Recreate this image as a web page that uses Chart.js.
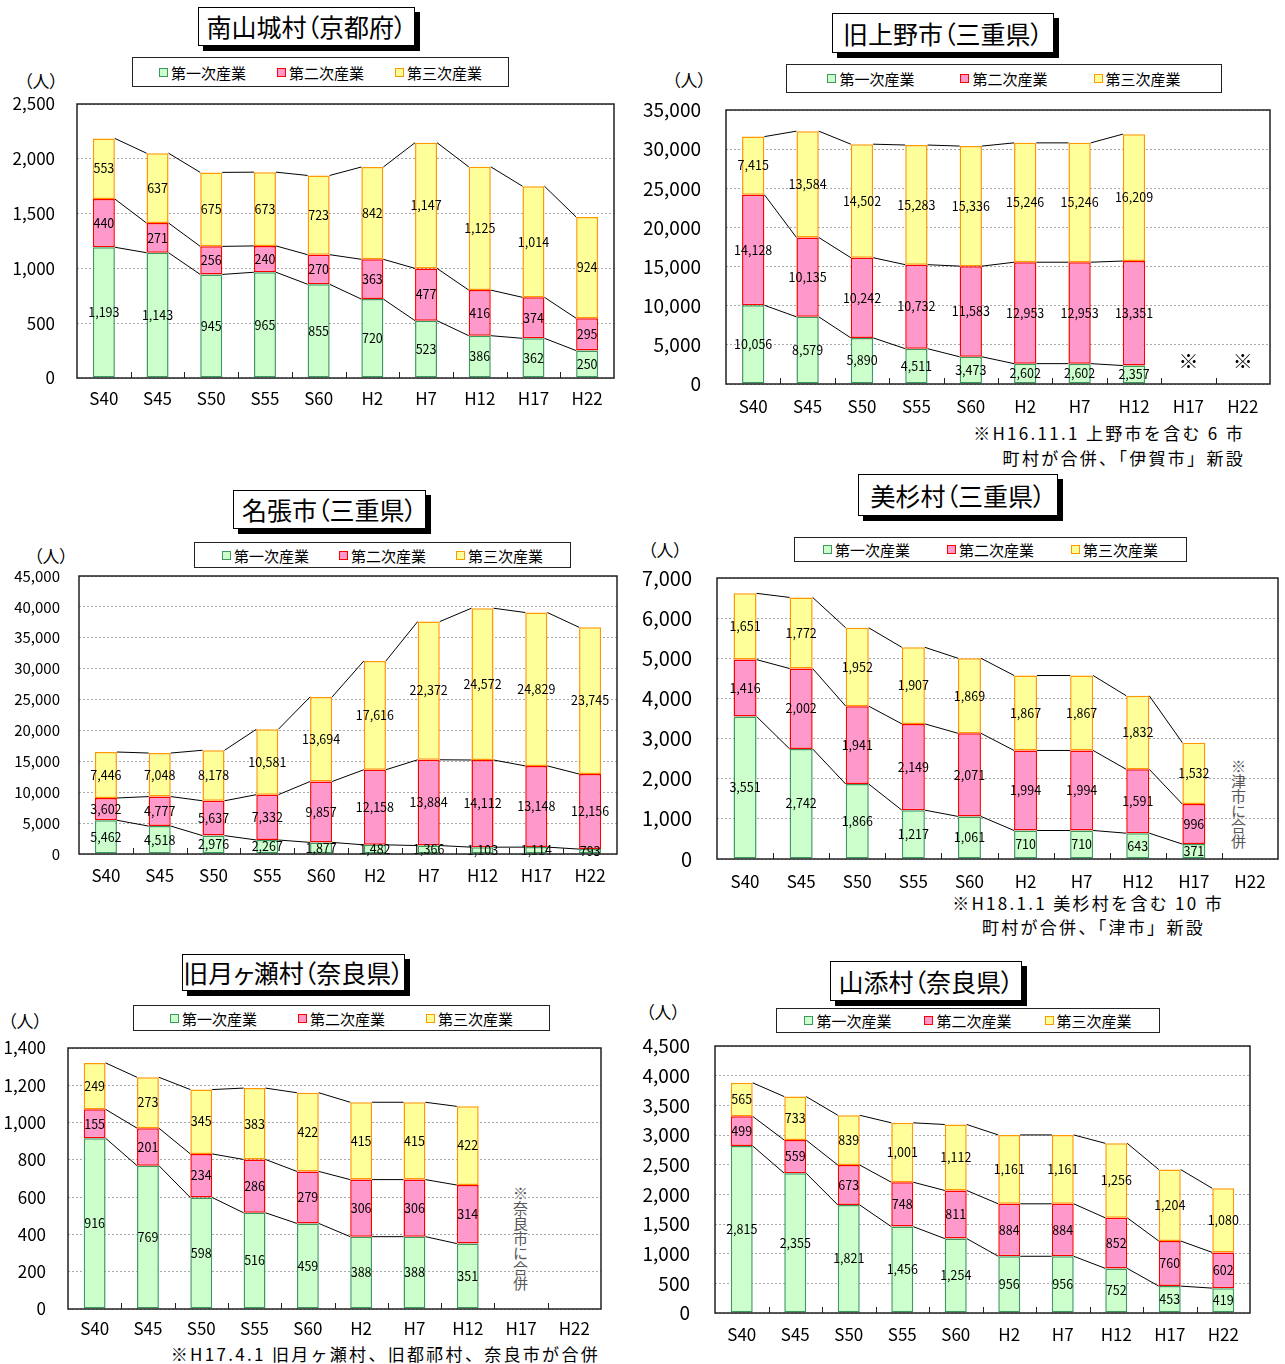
<!DOCTYPE html>
<html lang="ja">
<head>
<meta charset="utf-8">
<script src="https://cdn.jsdelivr.net/npm/chart.js@4.4.1/dist/chart.umd.min.js"></script>
<style>
  body { margin: 0; background: #fff; font-family: "Noto Sans CJK JP", sans-serif; }
  #page { position: relative; width: 1285px; height: 1364px; overflow: hidden; }
  .title { position: absolute; box-sizing: border-box; background: #fff; border: 1px solid #000;
    box-shadow: 5px 5px 0 #000; font-size: 25px; line-height: 1; display: flex; align-items: center;
    justify-content: center; white-space: nowrap; font-feature-settings: "palt"; }
  .legend { position: absolute; box-sizing: border-box; background: #fff; border: 1px solid #222;
    display: flex; align-items: center; justify-content: center; font-size: 15px; white-space: nowrap; }
  .legend .item { display: flex; align-items: center; }
  .legend i { display: inline-block; width: 9px; height: 9px; box-sizing: border-box; border: 1px solid; margin-right: 3px; }
  .unit { position: absolute; font-size: 17px; line-height: 1; font-feature-settings: "palt"; }
  .note { position: absolute; font-size: 17px; letter-spacing: 2.3px; white-space: pre; line-height: 1; }
  .vnote { position: absolute; writing-mode: vertical-rl; font-size: 15px; color: #555; line-height: 1; }
  canvas { position: absolute; }
</style>
</head>
<body>
<div id="page"></div>
<script>
const years = ['S40', 'S45', 'S50', 'S55', 'S60', 'H2', 'H7', 'H12', 'H17', 'H22'];
const seriesNames = ['第一次産業', '第二次産業', '第三次産業'];

// 南山城村（京都府）
const minamiPrimary = [1193, 1143, 945, 965, 855, 720, 523, 386, 362, 250];
const minamiSecondary = [440, 271, 256, 240, 270, 363, 477, 416, 374, 295];
const minamiTertiary = [553, 637, 675, 673, 723, 842, 1147, 1125, 1014, 924];

// 旧上野市（三重県） H17, H22 は合併のためなし
const uenoPrimary = [10056, 8579, 5890, 4511, 3473, 2602, 2602, 2357];
const uenoSecondary = [14128, 10135, 10242, 10732, 11583, 12953, 12953, 13351];
const uenoTertiary = [7415, 13584, 14502, 15283, 15336, 15246, 15246, 16209];

// 名張市（三重県）
const nabariPrimary = [5462, 4518, 2976, 2267, 1877, 1482, 1366, 1103, 1114, 793];
const nabariSecondary = [3602, 4777, 5637, 7332, 9857, 12158, 13884, 14112, 13148, 12156];
const nabariTertiary = [7446, 7048, 8178, 10581, 13694, 17616, 22372, 24572, 24829, 23745];

// 美杉村（三重県） H22 はなし
const misugiPrimary = [3551, 2742, 1866, 1217, 1061, 710, 710, 643, 371];
const misugiSecondary = [1416, 2002, 1941, 2149, 2071, 1994, 1994, 1591, 996];
const misugiTertiary = [1651, 1772, 1952, 1907, 1869, 1867, 1867, 1832, 1532];

// 旧月ヶ瀬村（奈良県） H17, H22 はなし
const tsukigasePrimary = [916, 769, 598, 516, 459, 388, 388, 351];
const tsukigaseSecondary = [155, 201, 234, 286, 279, 306, 306, 314];
const tsukigaseTertiary = [249, 273, 345, 383, 422, 415, 415, 422];

// 山添村（奈良県）
const yamazoePrimary = [2815, 2355, 1821, 1456, 1254, 956, 956, 752, 453, 419];
const yamazoeSecondary = [499, 559, 673, 748, 811, 884, 884, 852, 760, 602];
const yamazoeTertiary = [565, 733, 839, 1001, 1112, 1161, 1161, 1256, 1204, 1080];

const fillColors = ['#ccffcc', '#ff99cc', '#ffff99'];
const edgeColors = ['#3c9a5f', '#ff0000', '#ff9900'];
const FONT = '"Noto Sans CJK JP", sans-serif';

Chart.defaults.color = '#000';
Chart.defaults.font.family = FONT;

// layout of each panel: plot = [left, top, right, bottom] of the chart area
const panels = [
  { title: '南山城村（京都府）', series: [minamiPrimary, minamiSecondary, minamiTertiary],
    yMax: 2500, yStep: 500, plot: [77, 104, 614, 378], titleBox: [198, 7, 217, 39],
    legendBox: [132, 57, 377, 30], legendGap: 31, unit: [24, 72], yFont: 17, yPad: 22, xPad: 2 },
  { title: '旧上野市（三重県）', series: [uenoPrimary, uenoSecondary, uenoTertiary],
    yMax: 35000, yStep: 5000, plot: [726, 110, 1270, 384], titleBox: [832, 13, 222, 40],
    legendBox: [786, 64, 436, 29], legendGap: 46, unit: [672, 71], yFont: 19, yPad: 25, xPad: 4,
    marks: { labels: ['H17', 'H22'], value: 2940 },
    notes: [{ text: '※H16.11.1 上野市を含む 6 市', right: 1245, top: 424 },
            { text: '町村が合併、「伊賀市」新設', right: 1245, top: 449 }] },
  { title: '名張市（三重県）', series: [nabariPrimary, nabariSecondary, nabariTertiary],
    yMax: 45000, yStep: 5000, plot: [79, 576, 617, 854], titleBox: [233, 490, 193, 39],
    legendBox: [194, 542, 377, 26], legendGap: 30, unit: [34, 547], yFont: 15, yPad: 19, xPad: 3 },
  { title: '美杉村（三重県）', series: [misugiPrimary, misugiSecondary, misugiTertiary],
    yMax: 7000, yStep: 1000, plot: [717, 578, 1278, 859], titleBox: [858, 474, 200, 42],
    legendBox: [794, 537, 393, 25], legendGap: 37, unit: [648, 541], yFont: 20, yPad: 25, xPad: 4,
    vnote: { text: '※津市に合併', left: 1231, top: 759 },
    notes: [{ text: '※H18.1.1 美杉村を含む 10 市', right: 1224, top: 894 },
            { text: '町村が合併、「津市」新設', right: 1205, top: 918 }] },
  { title: '旧月ヶ瀬村（奈良県）', series: [tsukigasePrimary, tsukigaseSecondary, tsukigaseTertiary],
    yMax: 1400, yStep: 200, plot: [68, 1048, 601, 1309], titleBox: [182, 954, 223, 37],
    legendBox: [133, 1005, 417, 26], legendGap: 41, unit: [8, 1012], yFont: 17, yPad: 22, xPad: 1,
    vnote: { text: '※奈良市に合併', left: 513, top: 1186 },
    notes: [{ text: '※H17.4.1 旧月ヶ瀬村、旧都祁村、奈良市が合併', right: 600, top: 1345 }] },
  { title: '山添村（奈良県）', series: [yamazoePrimary, yamazoeSecondary, yamazoeTertiary],
    yMax: 4500, yStep: 500, plot: [715, 1046, 1250, 1313], titleBox: [830, 961, 192, 40],
    legendBox: [776, 1008, 384, 25], legendGap: 33, unit: [646, 1003], yFont: 19, yPad: 25, xPad: 3 }
];

// connector lines between the tops of each stack level
const stackLines = {
  id: 'stackLines',
  afterDatasetsDraw(chart) {
    const ctx = chart.ctx;
    ctx.save();
    ctx.strokeStyle = '#000';
    ctx.lineWidth = 1;
    chart.data.datasets.forEach((ds, k) => {
      const bars = chart.getDatasetMeta(k).data;
      for (let i = 0; i < ds.data.length - 1; i++) {
        if (ds.data[i] == null || ds.data[i + 1] == null) continue;
        const a = bars[i], b = bars[i + 1];
        ctx.beginPath();
        ctx.moveTo(a.x + a.width / 2, a.y);
        ctx.lineTo(b.x - b.width / 2, b.y);
        ctx.stroke();
      }
    });
    ctx.restore();
  }
};

// value text in the middle of each segment
const segLabels = {
  id: 'segLabels',
  afterDatasetsDraw(chart) {
    const ctx = chart.ctx;
    ctx.save();
    ctx.font = '12.5px ' + FONT;
    ctx.fillStyle = '#000';
    ctx.textAlign = 'center';
    ctx.textBaseline = 'middle';
    chart.data.datasets.forEach((ds, k) => {
      chart.getDatasetMeta(k).data.forEach((bar, i) => {
        const v = ds.data[i];
        if (v == null) return;
        ctx.fillText(v.toLocaleString('en-US'), bar.x, (bar.y + bar.base) / 2);
      });
    });
    ctx.restore();
  }
};

// plot frame, small category ticks, ※ marks
const frame = {
  id: 'frame',
  afterDraw(chart, args, opts) {
    const ctx = chart.ctx;
    const { left, top, right, bottom } = chart.chartArea;
    const x = chart.scales.x, y = chart.scales.y;
    ctx.save();
    ctx.strokeStyle = '#222';
    ctx.lineWidth = 1.5;
    ctx.strokeRect(left, top, right - left, bottom - top);
    ctx.lineWidth = 1;
    ctx.beginPath();
    for (let i = 1; i < chart.data.labels.length; i++) {
      const px = Math.round((x.getPixelForValue(i - 1) + x.getPixelForValue(i)) / 2) + 0.5;
      ctx.moveTo(px, bottom);
      ctx.lineTo(px, bottom - 6);
    }
    ctx.stroke();
    if (opts.marks) {
      ctx.font = '20px ' + FONT;
      ctx.fillStyle = '#000';
      ctx.textAlign = 'center';
      ctx.textBaseline = 'middle';
      opts.marks.labels.forEach(lab => {
        ctx.fillText('※', x.getPixelForValue(years.indexOf(lab)), y.getPixelForValue(opts.marks.value));
      });
    }
    ctx.restore();
  }
};

const page = document.getElementById('page');

function addDiv(cls, html, style) {
  const d = document.createElement('div');
  d.className = cls;
  d.innerHTML = html;
  Object.assign(d.style, style);
  page.appendChild(d);
  return d;
}

function makePanel(p) {
  const [l, t, r, b] = p.plot;
  const yW = 90, padTop = 14, padRight = 4, xH = 40;

  addDiv('title', p.title, { left: p.titleBox[0] + 'px', top: p.titleBox[1] + 'px',
    width: p.titleBox[2] + 'px', height: p.titleBox[3] + 'px' });

  const items = seriesNames.map((n, k) =>
    `<span class="item"><i style="background:${fillColors[k]};border-color:${edgeColors[k]}"></i>${n}</span>`).join('');
  addDiv('legend', items, { left: p.legendBox[0] + 'px', top: p.legendBox[1] + 'px',
    width: p.legendBox[2] + 'px', height: p.legendBox[3] + 'px', gap: p.legendGap + 'px' });

  addDiv('unit', '（人）', { left: p.unit[0] + 'px', top: p.unit[1] + 'px' });

  if (p.vnote) addDiv('vnote', p.vnote.text, { left: p.vnote.left + 'px', top: p.vnote.top + 'px' });
  (p.notes || []).forEach(n => addDiv('note', n.text,
    { right: (1285 - n.right) + 'px', top: n.top + 'px' }));

  const canvas = document.createElement('canvas');
  const w = (r - l) + yW + padRight;
  const h = (b - t) + padTop + xH;
  canvas.width = w;
  canvas.height = h;
  canvas.style.width = w + 'px';
  canvas.style.height = h + 'px';
  canvas.style.left = (l - yW) + 'px';
  canvas.style.top = (t - padTop) + 'px';
  page.appendChild(canvas);

  new Chart(canvas.getContext('2d'), {
    type: 'bar',
    data: {
      labels: years,
      datasets: p.series.map((d, k) => ({
        label: seriesNames[k],
        data: d,
        backgroundColor: fillColors[k],
        borderColor: edgeColors[k],
        borderWidth: 1.5,
        borderSkipped: false,
        barPercentage: 0.41,
        categoryPercentage: 1
      }))
    },
    options: {
      responsive: false,
      animation: false,
      devicePixelRatio: 1,
      layout: { padding: { top: padTop, right: padRight, left: 0, bottom: 0 } },
      plugins: {
        legend: { display: false },
        tooltip: { enabled: false },
        frame: { marks: p.marks }
      },
      scales: {
        x: {
          stacked: true,
          grid: { display: false },
          border: { display: false },
          ticks: { font: { size: 17 }, padding: p.xPad, maxRotation: 0, autoSkip: false },
          afterFit(s) { s.height = xH; s.paddingLeft = 0; s.paddingRight = 0; }
        },
        y: {
          stacked: true,
          min: 0,
          max: p.yMax,
          grid: { color: '#a8a8a8', drawTicks: false },
          border: { display: false, dash: [2, 2] },
          ticks: { stepSize: p.yStep, font: { size: p.yFont }, padding: p.yPad,
                   callback: v => v.toLocaleString('en-US') },
          afterFit(s) { s.width = yW; s.paddingTop = 0; s.paddingBottom = 0; }
        }
      }
    },
    plugins: [stackLines, segLabels, frame]
  });
}

panels.forEach(makePanel);
</script>
</body>
</html>
